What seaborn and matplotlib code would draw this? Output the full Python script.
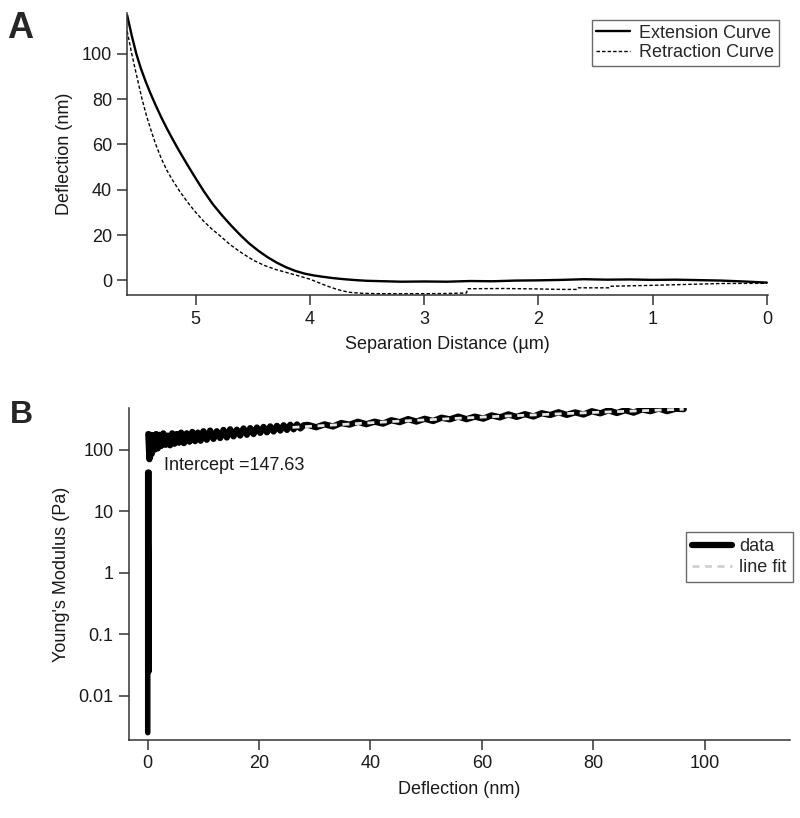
import matplotlib
matplotlib.use("Agg")
import matplotlib.pyplot as plt
import matplotlib.ticker as mticker
import seaborn as sns
import pandas as pd

# ---- panel A: force curve ----
ext_sep = [5.60, 5.56, 5.52, 5.48, 5.44, 5.40, 5.35, 5.30, 5.25, 5.20, 5.15, 5.10,
           5.05, 5.00, 4.93, 4.85, 4.77, 4.69, 4.61, 4.53, 4.45, 4.37, 4.29, 4.21,
           4.13, 4.05, 3.97, 3.89, 3.80, 3.70, 3.60, 3.50, 3.35, 3.20, 3.00, 2.80,
           2.60, 2.40, 2.20, 2.00, 1.80, 1.60, 1.40, 1.20, 1.00, 0.80, 0.60, 0.40,
           0.20, 0.00]
ext_defl = [117, 108, 100, 93.5, 88, 83, 77.2, 71.8, 66.8, 62.1, 57.6, 53.3,
            49.1, 45.0, 39.4, 33.6, 28.7, 24.2, 20.0, 16.2, 13.0, 10.2, 7.8, 5.8,
            4.2, 3.0, 2.2, 1.6, 1.0, 0.5, 0.1, -0.2, -0.4, -0.6, -0.5, -0.6,
            -0.3, -0.4, -0.1, 0.0, 0.2, 0.5, 0.3, 0.4, 0.2, 0.3, 0.1, -0.1,
            -0.5, -1.0]

ret_sep = [5.60, 5.58, 5.56, 5.53, 5.50, 5.47, 5.43, 5.39, 5.35, 5.30, 5.25, 5.20,
           5.14, 5.07, 5.00, 4.93, 4.86, 4.79, 4.70, 4.60, 4.50, 4.40, 4.30, 4.20,
           4.10, 4.00, 3.91, 3.85, 3.78, 3.72, 3.65, 3.55, 3.40, 3.20, 3.00, 2.80,
           2.63, 2.62, 2.30, 2.00, 1.80, 1.66, 1.65, 1.38, 1.37, 1.00, 0.70, 0.40,
           0.00]
ret_defl = [110, 105, 100, 93.2, 86.6, 80, 72.5, 66, 60, 53.6, 48.3, 44,
            39.3, 34.4, 30, 26.1, 22.7, 19.8, 15.8, 12.2, 9.0, 6.6, 4.8, 3.4,
            2.0, 0.5, -1.3, -2.5, -3.7, -4.6, -5.3, -5.7, -5.9, -5.9, -5.9, -5.8,
            -5.6, -3.7, -3.6, -3.8, -4.0, -4.0, -3.3, -3.3, -2.6, -2.2, -1.8, -1.4,
            -1.3]

# ---- panel B: Young's modulus vs deflection ----
spike_x = [0.0, 0.0, 0.25, 0.25]
spike_y = [0.0025, 43, 0.025, 43]

mod_x = [0.1, 0.3, 0.5, 0.7, 0.9, 1.2, 1.5, 1.8, 2.1, 2.4, 2.8, 3.2, 3.6, 4.0, 4.4,
         4.8, 5.2, 5.6, 6.0, 6.5, 7.0, 7.5, 8.0, 8.5, 9.0, 9.5, 10.0, 10.6, 11.2,
         11.8, 12.4, 13.0, 13.6, 14.2, 14.8, 15.4, 16.0, 16.6, 17.2, 17.8, 18.4,
         19.0, 19.6, 20.2, 20.8, 21.4, 22.0, 22.6, 23.2, 23.8, 24.4, 25.0, 25.6,
         26.2, 26.8, 27.4, 28.0,
         28.75, 30.25, 31.75, 33.25, 34.75, 36.25, 37.75, 39.25, 40.75, 42.25,
         43.75, 45.25, 46.75, 48.25, 49.75, 51.25, 52.75, 54.25, 55.75, 57.25,
         58.75, 60.25, 61.75, 63.25, 64.75, 66.25, 67.75, 69.25, 70.75, 72.25,
         73.75, 75.25, 76.75, 78.25, 79.75, 81.25, 82.75, 84.25, 85.75, 87.25,
         88.75, 90.25, 91.75, 93.25, 94.75, 96.25]
mod_y = [180, 70, 175, 85, 170, 100, 180, 105, 175, 115, 185, 120, 170, 118, 185,
         125, 180, 130, 190, 128, 185, 135, 195, 138, 190, 140, 200, 145, 205,
         150, 200, 155, 210, 158, 215, 165, 212, 170, 222, 175, 225,
         180, 230, 188, 235, 192, 240, 198, 245, 205, 250, 210, 255,
         215, 258, 222, 250,
         254, 232, 259, 239, 272, 256, 285, 260, 286, 266,
         302, 281, 315, 287, 319, 293, 332, 312, 346, 314,
         346, 320, 362, 336, 376, 342, 379, 347, 393, 367,
         407, 369, 405, 374, 423, 391, 437, 396, 439, 401,
         453, 423, 468, 424, 464, 458]

fit_x = [26, 44, 62, 80, 96.25]
fit_y = [231, 288, 346, 404, 456]
intercept = 147.63

sns.set_style("ticks")
plt.rcParams["font.family"] = ["Liberation Sans", "DejaVu Sans"]
plt.rcParams["axes.edgecolor"] = "#333333"
plt.rcParams["xtick.color"] = "#333333"
plt.rcParams["ytick.color"] = "#333333"
plt.rcParams["xtick.labelcolor"] = "#1a1a1a"
plt.rcParams["ytick.labelcolor"] = "#1a1a1a"
plt.rcParams["axes.labelcolor"] = "#1a1a1a"

fig = plt.figure(figsize=(8, 8.18), dpi=100)
axA = fig.add_axes([0.159, 0.639, 0.801, 0.345])
axB = fig.add_axes([0.161, 0.0954, 0.8263, 0.406])

ext = pd.DataFrame({"sep": ext_sep, "defl": ext_defl})
ret = pd.DataFrame({"sep": ret_sep, "defl": ret_defl})
sns.lineplot(data=ext, x="sep", y="defl", sort=False, estimator=None, ax=axA,
             color="black", lw=1.7, label="Extension Curve")
sns.lineplot(data=ret, x="sep", y="defl", sort=False, estimator=None, ax=axA,
             color="black", lw=1.0, label="Retraction Curve")
axA.get_lines()[1].set_linestyle((0, (2.5, 1.5)))
axA.set_xlim(5.6, -0.01)
axA.set_ylim(-6.6, 118)
axA.set_xticks([5, 4, 3, 2, 1, 0])
axA.set_yticks([0, 20, 40, 60, 80, 100])
axA.set_xlabel("Separation Distance (µm)", fontsize=13, labelpad=6)
axA.set_ylabel("Deflection (nm)", fontsize=13, labelpad=6)
axA.legend(loc="upper right", bbox_to_anchor=(1.017, 0.975), borderaxespad=0,
           fontsize=13, frameon=True, fancybox=False, edgecolor="#444444",
           handlelength=1.9, handletextpad=0.5, labelspacing=0.15, borderpad=0.25)

spike = pd.DataFrame({"x": spike_x, "y": spike_y})
mod = pd.DataFrame({"x": mod_x, "y": mod_y})
fit = pd.DataFrame({"x": fit_x, "y": fit_y})
sns.lineplot(data=spike, x="x", y="y", sort=False, estimator=None, ax=axB,
             color="black", lw=4)
sns.lineplot(data=mod, x="x", y="y", sort=False, estimator=None, ax=axB,
             color="black", lw=4.5, label="data")
sns.lineplot(data=fit, x="x", y="y", sort=False, estimator=None, ax=axB,
             color="#e6e6e6", lw=2, label="line fit")
axB.get_lines()[2].set_linestyle((0, (2.5, 2)))
axB.set_yscale("log")
axB.set_xlim(-3.4, 115.3)
axB.set_ylim(0.0019, 480)
axB.set_xticks([0, 20, 40, 60, 80, 100])
axB.set_yticks([0.01, 0.1, 1, 10, 100])
axB.yaxis.set_major_formatter(mticker.FixedFormatter(["0.01", "0.1", "1", "10", "100"]))
axB.yaxis.set_minor_locator(mticker.NullLocator())
axB.set_xlabel("Deflection (nm)", fontsize=13, labelpad=6)
axB.set_ylabel("Young's Modulus (Pa)", fontsize=13, labelpad=6)
axB.text(3.0, 55, f"Intercept ={intercept}", fontsize=13, va="center", color="#1a1a1a")
leg = axB.legend(loc="upper right", bbox_to_anchor=(1.0045, 0.6265), borderaxespad=0,
                 fontsize=13, frameon=True, fancybox=False, edgecolor="#444444",
                 handlelength=2.2, handletextpad=0.4, labelspacing=0.2, borderpad=0.35)
leg.get_lines()[1].set_color("#d0d0d0")

for ax in (axA, axB):
    sns.despine(ax=ax)
    ax.tick_params(length=7, width=1.1, labelsize=13, pad=4)
    for s in ("left", "bottom"):
        ax.spines[s].set_linewidth(1.1)

fig.text(0.009, 0.986, "A", fontsize=26, fontweight="bold", va="top")
fig.text(0.012, 0.511, "B", fontsize=23, fontweight="bold", va="top")

fig.savefig("out.png", dpi=100)
